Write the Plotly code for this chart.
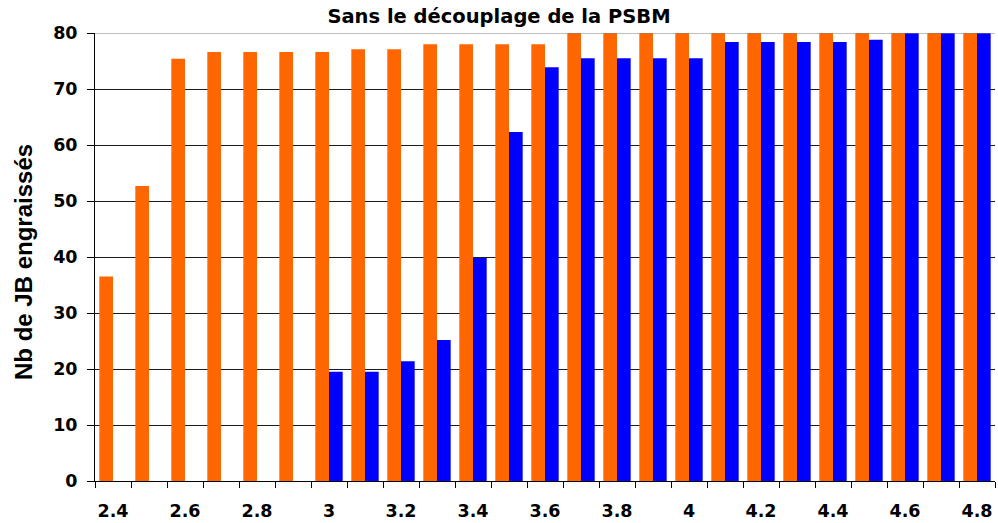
import plotly.graph_objects as go

categories = [2.4, 2.5, 2.6, 2.7, 2.8, 2.9, 3.0, 3.1, 3.2, 3.3, 3.4, 3.5, 3.6,
              3.7, 3.8, 3.9, 4.0, 4.1, 4.2, 4.3, 4.4, 4.5, 4.6, 4.7, 4.8]
orange_values = [36.5, 52.7, 75.4, 76.6, 76.6, 76.6, 76.6, 77.1, 77.1, 78.0, 78.0, 78.0, 78.0,
                 80, 80, 80, 80, 80, 80, 80, 80, 80, 80, 80, 80]
blue_values = [None, None, None, None, None, None, 19.5, 19.5, 21.4, 25.2, 39.8, 62.3, 73.9,
               75.5, 75.5, 75.5, 75.5, 78.4, 78.4, 78.4, 78.4, 78.8, 80, 80, 80]
x_tick_vals = [2.4, 2.6, 2.8, 3.0, 3.2, 3.4, 3.6, 3.8, 4.0, 4.2, 4.4, 4.6, 4.8]
x_tick_text = ["2.4", "2.6", "2.8", "3", "3.2", "3.4", "3.6", "3.8", "4", "4.2", "4.4", "4.6", "4.8"]
y_tick_vals = [0, 10, 20, 30, 40, 50, 60, 70, 80]

title_text = "Sans le découplage de la PSBM"
y_title_text = "Nb de JB engraissés"

fig = go.Figure()
fig.add_trace(go.Bar(x=categories, y=orange_values, marker=dict(color="#FF6600", line=dict(width=0)),
                     name="orange"))
fig.add_trace(go.Bar(x=categories, y=blue_values, marker=dict(color="#0000FF", line=dict(width=0)),
                     name="blue"))

tick_font = dict(family="DejaVu Sans", size=17.5, color="#000000")

fig.update_layout(
    width=998, height=523,
    margin=dict(l=95, r=3, t=33, b=42, autoexpand=False),
    paper_bgcolor="white", plot_bgcolor="white",
    barmode="group", bargap=0.24, bargroupgap=0,
    showlegend=False,
    title=dict(text="<b>" + title_text + "</b>", x=0.5, xref="container", xanchor="center",
               y=1 - 16 / 523, yref="container", yanchor="middle",
               font=dict(family="DejaVu Sans", size=19.5, color="#000000")),
    xaxis=dict(
        range=[2.35, 4.85], tickmode="array", tickvals=x_tick_vals,
        ticktext=["<b>" + t + "</b>" for t in x_tick_text],
        ticks="", showgrid=False, zeroline=False, automargin=False,
        showline=True, linecolor="#000000", linewidth=1,
        tickfont=tick_font, ticklabelstandoff=14,
        minor=dict(ticks="outside", tick0=2.35, dtick=0.1, ticklen=6, tickcolor="#000000",
                   tickwidth=1, showgrid=False),
    ),
    yaxis=dict(
        range=[0, 80], tickmode="array", tickvals=y_tick_vals,
        ticktext=["<b>" + str(v) + "</b>" for v in y_tick_vals],
        ticks="outside", ticklen=7, tickcolor="#000000", tickwidth=1,
        showgrid=True, gridcolor="#1a1a1a", gridwidth=1, zeroline=False, automargin=False,
        showline=True, linecolor="#000000", linewidth=1,
        tickfont=tick_font, ticklabelstandoff=6,
    ),
    annotations=[dict(
        text="<b>" + y_title_text + "</b>", textangle=-90,
        xref="paper", yref="paper", x=(23 - 95) / 900, y=(481 - 262) / 448,
        xanchor="center", yanchor="middle", showarrow=False,
        font=dict(family="Liberation Sans", size=24, color="#000000"),
    )],
    shapes=[dict(type="line", xref="paper", yref="y", x0=0, x1=1, y0=80, y1=80,
                 line=dict(color="#808080", width=1), layer="above")],
)

fig.write_html("out.html", config={"displayModeBar": False},
               post_script="document.body.style.margin='0';document.body.style.overflow='hidden';")
